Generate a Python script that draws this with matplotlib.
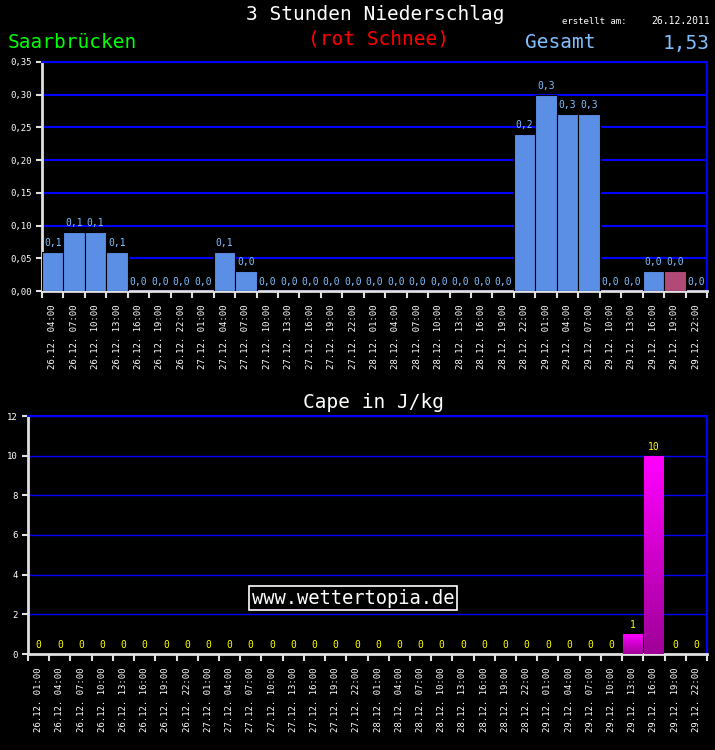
import numpy as np
import matplotlib.pyplot as plt
from matplotlib.colors import LinearSegmentedColormap

# 3-hour precipitation (mm), 26.12. 04:00 .. 29.12. 22:00
hours = ["01:00", "04:00", "07:00", "10:00", "13:00", "16:00", "19:00", "22:00"]
days = ["26.12.", "27.12.", "28.12.", "29.12."]
rain_labels = [f"{d} {h}" for d in days for h in hours][1:]
rain_values = [0.06, 0.09, 0.09, 0.06, 0.0, 0.0, 0.0,
               0.0, 0.06, 0.03, 0.0, 0.0, 0.0, 0.0, 0.0,
               0.0, 0.0, 0.0, 0.0, 0.0, 0.0, 0.0, 0.24,
               0.30, 0.27, 0.27, 0.0, 0.0, 0.03, 0.03, 0.0]
snow_flags = [False] * 29 + [True, False]

# CAPE (J/kg), 26.12. 01:00 .. 29.12. 22:00
cape_labels = [f"{d} {h}" for d in days for h in hours]
cape_values = [0] * 28 + [1, 10, 0, 0]

total = "1,53"

MONO = "DejaVu Sans Mono"
BLUE = "#0000ff"
LIGHTBLUE = "#80c0ff"
W, H = 715, 750

fig = plt.figure(figsize=(W / 100, H / 100), dpi=100, facecolor="black")

def px_axes(left, top, right, bottom):
    return fig.add_axes([left / W, 1 - bottom / H, (right - left) / W, (bottom - top) / H])

def style_axes(ax, n, labels, grid_lw):
    ax.set_facecolor("black")
    ax.set_xlim(-0.5, n - 0.5)
    for side in ["top", "right"]:
        ax.spines[side].set_color(BLUE)
        ax.spines[side].set_linewidth(1.5)
    for side in ["left", "bottom"]:
        ax.spines[side].set_color("#e0e0e0")
        ax.spines[side].set_linewidth(2)
    ax.set_xticks(np.arange(n))
    ax.set_xticklabels(labels, rotation=90, color="white", fontsize=6.5, family=MONO)
    ax.set_xticks(np.arange(n + 1) - 0.5, minor=True)
    ax.tick_params(axis="x", which="major", length=0, pad=10)
    ax.tick_params(axis="x", which="minor", length=5, width=1.5, color="#e0e0e0", direction="out")
    ax.tick_params(axis="y", length=4, width=1.5, color="#e0e0e0", labelcolor="white", labelsize=6.5)
    for t in ax.get_yticklabels():
        t.set_family(MONO)
    ax.grid(axis="y", color=BLUE, linewidth=grid_lw)
    ax.set_axisbelow(True)

# --- top chart: precipitation ---
ax1 = px_axes(42, 62, 707, 291)
n1 = len(rain_values)
x1 = np.arange(n1)
colors1 = ["#b24a78" if s else "#5b8fe6" for s in snow_flags]
ax1.bar(x1, rain_values, width=1.0, color=colors1, edgecolor="black", linewidth=0.8, zorder=3)
ax1.set_ylim(0, 0.35)
yt = np.arange(0, 0.351, 0.05)
ax1.set_yticks(yt)
ax1.set_yticklabels([f"{v:.2f}".replace(".", ",") for v in yt])
style_axes(ax1, n1, rain_labels, 1.5)
for xi, v in zip(x1, rain_values):
    ax1.annotate(f"{v:.1f}".replace(".", ","), (xi, v), xytext=(0, 3), textcoords="offset points",
                 ha="center", va="bottom", color=LIGHTBLUE, fontsize=7, family=MONO, zorder=4)

# --- bottom chart: CAPE ---
ax2 = px_axes(28, 416, 707, 654)
n2 = len(cape_values)
x2 = np.arange(n2)
ax2.set_ylim(0, 12)
ax2.set_yticks(range(0, 13, 2))
style_axes(ax2, n2, cape_labels, 1.0)
cmap = LinearSegmentedColormap.from_list("cape", ["#a00098", "#ff00ff"])
bars = ax2.bar(x2, cape_values, width=0.92, color="none", edgecolor="none", zorder=3)
grad = np.linspace(0, 1, 64).reshape(-1, 1)
for b, v in zip(bars, cape_values):
    if v > 0:
        im = ax2.imshow(grad, cmap=cmap, origin="lower", aspect="auto", zorder=3,
                        extent=[b.get_x(), b.get_x() + b.get_width(), 0, v])
        im.set_clip_path(b)
ax2.set_xlim(-0.5, n2 - 0.5)
ax2.set_ylim(0, 12)
for xi, v in zip(x2, cape_values):
    ax2.annotate(f"{v}", (xi, v), xytext=(0, 3), textcoords="offset points",
                 ha="center", va="bottom", color="#ffff00", fontsize=7, family=MONO, zorder=4)
ax2.text(0.479, 0.235, "www.wettertopia.de", transform=ax2.transAxes, ha="center", va="center",
         color="white", fontsize=13.5, family=MONO, zorder=5,
         bbox=dict(facecolor="black", edgecolor="white", linewidth=1.2, pad=2))

# --- header texts ---
def ftext(x, y, s, **kw):
    fig.text(x / W, 1 - y / H, s, family=MONO, va="center", **kw)

ftext(375, 15, "3 Stunden Niederschlag", color="white", fontsize=14, ha="center")
ftext(562, 21, "erstellt am:", color="white", fontsize=6.5, ha="left")
ftext(710, 21, "26.12.2011", color="white", fontsize=7, ha="right")
ftext(8, 43, "Saarbrücken", color="#00ff00", fontsize=14, ha="left")
ftext(378, 39, "(rot Schnee)", color="#ff0000", fontsize=14, ha="center")
ftext(525, 43, "Gesamt", color=LIGHTBLUE, fontsize=14, ha="left")
ftext(710, 43, total, color=LIGHTBLUE, fontsize=14, ha="right")
ftext(373, 402, "Cape in J/kg", color="white", fontsize=14, ha="center")

fig.savefig("out.png", dpi=100, facecolor="black")
